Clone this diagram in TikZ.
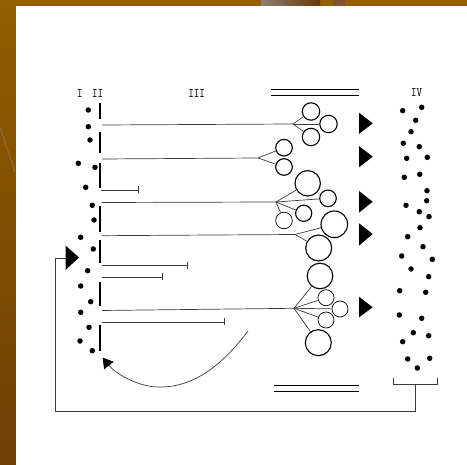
\documentclass[tikz,border=0pt]{standalone}
\usetikzlibrary{arrows.meta}
\definecolor{brownA}{RGB}{146,94,0}
\definecolor{brownB}{RGB}{110,62,4}
\definecolor{stripA}{RGB}{142,124,114}
\definecolor{stripB}{RGB}{104,56,6}
\definecolor{stripC}{RGB}{124,84,50}
\definecolor{wirec}{RGB}{60,60,60}
\begin{document}
\begin{tikzpicture}[x=1pt,y=-1pt,
  dot/.style={circle,fill=black,inner sep=0pt,minimum size=5.5pt},
  cell/.style={circle,draw=black,line width=1.1pt,inner sep=0pt},
  tcell/.style={circle,draw=black,line width=0.7pt,inner sep=0pt},
  wire/.style={draw=wirec,line width=0.7pt},
  stub/.style={wire,-{Bar[width=7pt,line width=0.8pt]}},
  seg/.style={draw=black,line width=1.5pt},
  rail/.style={draw=black,line width=1.3pt},
  loopline/.style={draw=wirec,line width=0.9pt},
  lab/.style={font=\ttfamily\fontsize{10.5}{11}\selectfont,inner sep=0pt,text=black}]
\useasboundingbox (0,0) rectangle (467,465);
% background
\shade[top color=brownA,bottom color=brownB] (0,0) rectangle (467,465);
\shade[left color=stripA,right color=stripB] (261,0) rectangle (320,6);
\fill[stripC] (333,0) rectangle (345,6);
\draw[stripA!60!brownA,line width=0.8pt] (0,127) -- (15,172);
\fill[white] (16,6) rectangle (467,465);
% labels
\node[lab] (l1) at (79.8,93) {\scalebox{1}[1.25]{I}};
\node[lab] (l2) at (97.7,93) {\scalebox{1}[1.25]{II}};
\node[lab] (l3) at (196.7,93) {\scalebox{1}[1.25]{III}};
\node[lab] (l4) at (416.7,93) {\scalebox{1}[1.25]{IV}};
% rails
\draw[rail] (271,89.5) -- (359,89.5);
\draw[rail] (271,95.5) -- (359,95.5);
\draw[rail] (274,385.3) -- (358.7,385.3);
\draw[rail] (274,391.3) -- (358.7,391.3);
% column I dots
\foreach \i/\x/\y in {1/88.3/110,2/88.3/126.7,3/90/140,4/78.3/163.3,5/95/167.3,6/85.7/187.3,
  7/92.3/205.3,8/94/220,9/80.7/237.3,10/93.3/249,11/87.7/270.7,12/80.7/286,13/90.7/301.7,
  14/80.7/312.3,15/89/327.3,16/80/341,17/92.3/350.7}
  \node[dot] (d\i) at (\x,\y) {};
% column II segments
\foreach \a/\b in {103/119,132/153,163/188,206/232,240/263,282/306,325/351}
  \draw[seg] (100,\a) -- (100,\b);
% column IV dots
\foreach \i/\x/\y in {1/402.7/110.7,2/421.7/107.3,3/415.7/120.3,4/411/131.7,5/403.3/143.3,
  6/419.3/146.7,7/406.7/158.3,8/427.3/157.3,9/404.3/177.3,10/419.7/174.3,11/427/190.7,
  12/426.7/200.7,13/406/205.3,14/419.3/211.7,15/429/216.7,16/420/227.7,17/407.7/236.7,
  18/423/246.7,19/401.7/256,20/432.3/259.3,21/411/269,22/428.7/276.7,23/399.7/290.7,
  24/425.7/292.3,25/399.3/315,26/421.7/318.3,27/413.3/332.7,28/402.7/341.7,29/428.7/335.7,
  30/407.7/359,31/429.7/358.3,32/417.3/368}
  \node[dot] (e\i) at (\x,\y) {};
% cells
\node[cell,minimum size=17.4pt] (A) at (311,111.5) {};
\node[cell,minimum size=17.4pt] (B) at (328.5,124) {};
\node[cell,minimum size=17.4pt] (C) at (311,137) {};
\node[cell,minimum size=16.6pt] (D) at (284,147.7) {};
\node[cell,minimum size=16.6pt] (E) at (284,167) {};
\node[cell,minimum size=25.4pt] (F) at (307.7,183.3) {};
\node[cell,minimum size=16.6pt] (G) at (328,198.3) {};
\node[cell,minimum size=16.2pt] (H) at (303.7,213.3) {};
\node[tcell,minimum size=16.6pt] (J) at (284,220.5) {};
\node[cell,minimum size=26.6pt] (K) at (334.3,224.3) {};
\node[cell,minimum size=26pt] (L) at (318.7,248) {};
\node[cell,minimum size=25.6pt] (M) at (320,276) {};
\node[tcell,minimum size=16pt] (P) at (326,297.7) {};
\node[tcell,minimum size=16pt] (Q) at (340,309) {};
\node[tcell,minimum size=16pt] (R) at (326,320) {};
\node[cell,minimum size=26pt] (S) at (318.3,342.7) {};
% branch points and line starts
\coordinate (b1) at (293,124);
\coordinate (b2) at (258,158);
\coordinate (b3) at (276,202);
\coordinate (b4) at (295,234.5);
\coordinate (b5) at (294,308.3);
\coordinate (h1) at (102,125);
\coordinate (h2) at (102,159);
\coordinate (h3) at (101,190);
\coordinate (h4) at (102,202.5);
\coordinate (h5) at (102,235.7);
\coordinate (h6) at (102,265.7);
\coordinate (h7) at (102,277);
\coordinate (h8) at (102,310.5);
\coordinate (h9) at (102,322);
\coordinate (s3) at (139,190);
\coordinate (s6) at (187.7,265.7);
\coordinate (s7) at (163,277);
\coordinate (s9) at (225,322);
% long lines and branches
\draw[wire] (h1) -- (b1);
\draw[wire] (h2) -- (b2);
\draw[wire] (h4) -- (b3);
\draw[wire] (h5) -- (b4);
\draw[wire] (h8) -- (b5);
\foreach \c in {A,B,C} \draw[wire] (b1) -- (\c);
\foreach \c in {D,E} \draw[wire] (b2) -- (\c);
\foreach \c in {F,G,H,J} \draw[wire] (b3) -- (\c);
\foreach \c in {K,L} \draw[wire] (b4) -- (\c);
\foreach \c in {M,P,Q,R,S} \draw[wire] (b5) -- (\c);
% short stubs
\draw[stub] (h3) -- (s3);
\draw[stub] (h6) -- (s6);
\draw[stub] (h7) -- (s7);
\draw[stub] (h9) -- (s9);
% right triangles
\foreach \t/\b/\m in {112.7/134/123.3,146/167.3/156.7,191/212.7/201.7,223.3/245.7/234,296.7/317.3/307.3}
  \fill[black] (359,\t) -- (372.7,\m) -- (359,\b) -- cycle;
% left triangle and feedback loop
\fill[black] (65.5,245.5) -- (79,257.5) -- (65.5,270) -- cycle;
\coordinate (fbin) at (65.5,258);
\draw[loopline] (393.3,378) -- (393.3,384.3) -- (437.3,384.3) -- (437.3,378);
\coordinate (br) at (415,384.3);
\coordinate (c1) at (415,411.5);
\coordinate (c2) at (55,411.5);
\coordinate (c3) at (55,258);
\draw[loopline] (br) -- (c1) -- (c2) -- (c3) -- (fbin);
% curved arrow
\coordinate (cv) at (248,331);
\coordinate (cvend) at (102.7,357.7);
\draw[wire,-{Triangle[length=10pt,width=12pt,fill=black,color=black]}] (cv) .. controls (215,375) and (185,388) .. (157,387) .. controls (135,386) and (114,372) .. (cvend);
\end{tikzpicture}
\end{document}
